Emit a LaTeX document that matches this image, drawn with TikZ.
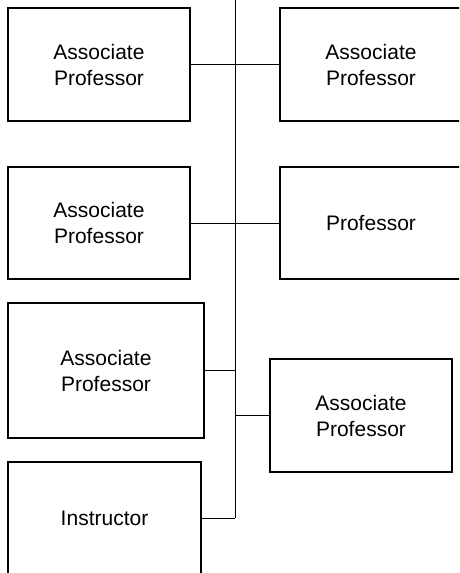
\documentclass[tikz,border=0pt]{standalone}
\usepackage{fontspec}
\setmainfont{Liberation Sans}
\usepackage{tikz}

\begin{document}
\begin{tikzpicture}[x=1pt, y=-1pt, line width=1pt, every node/.style={rectangle, draw, line width=1.3pt, align=center, font=\fontsize{21}{26}\selectfont, minimum width=182pt, minimum height=113pt, inner sep=0pt}]
  \useasboundingbox (0, 0) rectangle (459, 573);
  \clip (0, 0) rectangle (459, 573);
  \node (ap1) at (99, 64.5) {Associate\\Professor};
  \node (ap2) at (371, 64.5) {Associate\\Professor};
  \node (ap3) [minimum height=112pt] at (99, 223) {Associate\\Professor};
  \node (p) [minimum height=112pt] at (371, 223) {Professor};
  \node (ap4) [minimum width=196pt, minimum height=135pt] at (106, 370.5) {Associate\\Professor};
  \node (ap5) at (361, 415.5) {Associate\\Professor};
  \node (ins) [minimum width=193pt, minimum height=116pt] at (104.5, 520) {};
  \node (instext) [draw=none] at (104.5, 518) {Instructor};
  \coordinate (top) at (235, 0);
  \coordinate (bot) at (235, 518);
  \draw (top) -- (bot);
  \draw (ap1) -- (ap2);
  \draw (ap3) -- (p);
  \draw (ap4.east) -- (ap4.east -| top);
  \draw (ap5.west) -- (ap5.west -| top);
  \draw (instext -| ins.east) -- (bot);
\end{tikzpicture}
\end{document}
